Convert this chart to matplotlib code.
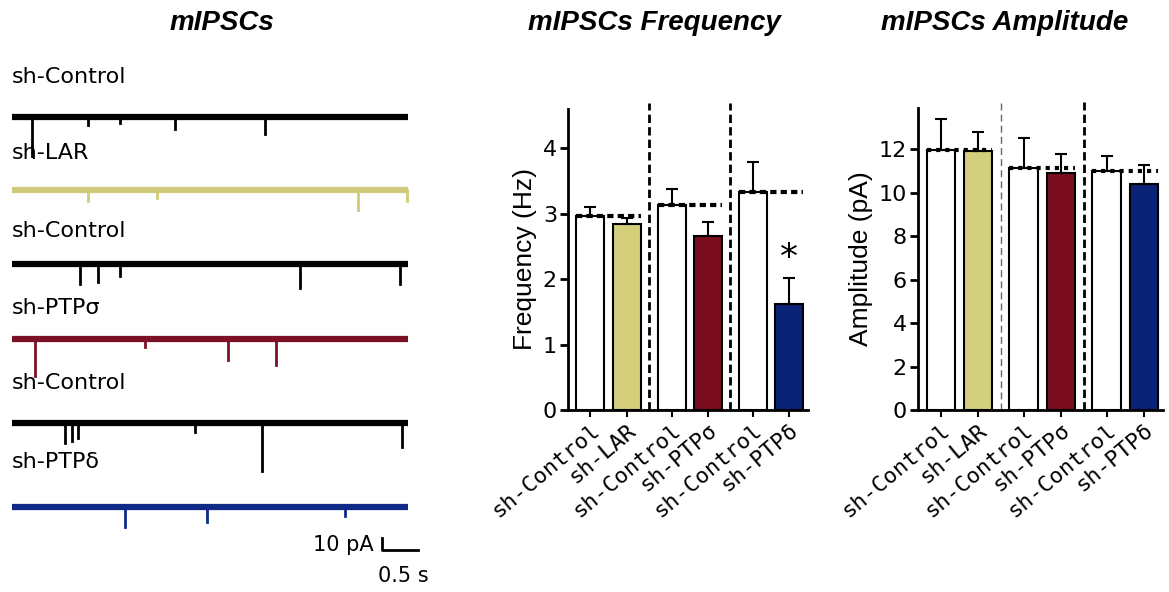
import numpy as np
import matplotlib
matplotlib.use("Agg")
import matplotlib.pyplot as plt

# ---- data ----
groups = ["sh-Control", "sh-LAR", "sh-Control", "sh-PTPσ", "sh-Control", "sh-PTPδ"]
freq_mean = [2.97, 2.84, 3.14, 2.66, 3.33, 1.62]
freq_sem = [0.13, 0.10, 0.23, 0.21, 0.46, 0.40]
amp_mean = [11.95, 11.9, 11.15, 10.9, 11.0, 10.38]
amp_sem = [1.45, 0.90, 1.35, 0.90, 0.70, 0.90]

trace_names = ["sh-Control", "sh-LAR", "sh-Control", "sh-PTPσ", "sh-Control", "sh-PTPδ"]
# (time s, amplitude pA) of the visible events in each trace
trace_events = [
    [(0.28, 33), (1.06, 7), (1.50, 5), (2.26, 10), (3.51, 14)],
    [(1.06, 9), (2.01, 7), (4.81, 17), (5.48, 9)],
    [(0.94, 16), (1.19, 15), (1.50, 10), (4.00, 20), (5.39, 16)],
    [(0.32, 31), (1.85, 7), (3.00, 18), (3.67, 22)],
    [(0.74, 17), (0.83, 15), (0.92, 13), (2.54, 8), (3.47, 40), (5.42, 20)],
    [(1.57, 17), (2.71, 13), (4.63, 8)],
]
trace_duration = 5.5  # s

# ---- styles / layout ----
bar_colors = ["white", "#D3CF7A", "white", "#7A0D20", "white", "#0B2377"]
trace_colors = ["black", "#CFCB7A", "black", "#7C1025", "black", "#0E2A86"]
positions = [0, 1.3, 2.9, 4.2, 5.8, 7.1]
trace_offsets = [396, 335, 273, 211, 141, 71]   # pA, baseline of each trace
label_offsets = [429, 366, 301, 237, 174, 108]

W, H = 1169, 592


def px_rect(x0, y_top, x1, y_bot):
    return [x0 / W, 1 - y_bot / H, (x1 - x0) / W, (y_bot - y_top) / H]


fig = plt.figure(figsize=(W / 100, H / 100), dpi=100)

title_kw = dict(family="Liberation Sans", weight="bold", style="italic",
                fontsize=20, ha="center", va="center")
fig.text(222 / W, 1 - 23 / H, "mIPSCs", **title_kw)
fig.text(654 / W, 1 - 23 / H, "mIPSCs Frequency", **title_kw)
fig.text(1005 / W, 1 - 23 / H, "mIPSCs Amplitude", **title_kw)

# ---- left: example traces ----
ax_tr = fig.add_axes(px_rect(12, 40, 440, 592))
ax_tr.set_xlim(0, 428 / 72)
ax_tr.set_ylim(0, 552 / 1.2)
ax_tr.axis("off")
for name, events, col, base, lab in zip(trace_names, trace_events, trace_colors,
                                        trace_offsets, label_offsets):
    ax_tr.plot([0, trace_duration], [base, base], color=col, lw=4.5,
               solid_capstyle="butt")
    for t, a in events:
        ax_tr.plot([t, t], [base, base - a], color=col, lw=2)
    ax_tr.text(0, lab, name, family="DejaVu Sans", fontsize=16,
               ha="left", va="center")

# scale bar: 10 pA, 0.5 s
sx, sy = 5.14, 35
ax_tr.plot([sx, sx, sx + 0.5], [sy + 10, sy, sy], color="black", lw=2)
ax_tr.text(sx - 0.12, sy + 4, "10 pA", family="DejaVu Sans", fontsize=15,
           ha="right", va="center")
ax_tr.text(sx + 0.3, sy - 22, "0.5 s", family="DejaVu Sans", fontsize=15,
           ha="center", va="center")


def bar_panel(ax, means, sems, ylim, yticks, ylabel, sep_styles, ref_style):
    ax.bar(positions, means, width=1.0, color=bar_colors, edgecolor="black",
           linewidth=1.5, zorder=2)
    ax.errorbar(positions, means, yerr=[[0] * len(sems), sems], fmt="none",
                ecolor="black", elinewidth=1.5, capsize=4, capthick=1.5, zorder=3)
    for i in (0, 2, 4):
        ax.plot([positions[i] - 0.5, positions[i + 1] + 0.5], [means[i], means[i]],
                zorder=4, **ref_style)
    for k, st in zip((0, 2), sep_styles):
        xs = (positions[k + 1] + positions[k + 2]) / 2
        ax.plot([xs, xs], [0, ylim[1] * 1.02], clip_on=False, zorder=1, **st)
    ax.set_xlim(-0.8, 7.77)
    ax.set_ylim(*ylim)
    ax.set_yticks(yticks)
    ax.set_xticks(positions)
    ax.set_xticklabels(groups, rotation=40, ha="right", va="top",
                       rotation_mode="anchor", family="DejaVu Sans Mono",
                       fontsize=16)
    for s in ("top", "right"):
        ax.spines[s].set_visible(False)
    for s in ("left", "bottom"):
        ax.spines[s].set_linewidth(2)
    ax.tick_params(axis="y", labelsize=16, length=6, width=2, pad=2)
    ax.tick_params(axis="x", length=5, width=1.5, pad=2)
    for t in ax.get_yticklabels():
        t.set_family("DejaVu Sans")
    ax.set_ylabel(ylabel, family="Liberation Sans", fontsize=19, labelpad=4)


thick_sep = dict(color="black", lw=2, ls=(0, (3, 1.5)))
thin_sep = dict(color="#666666", lw=1, ls=(0, (5, 3)))

ax_f = fig.add_axes(px_rect(568, 109, 808, 410))
bar_panel(ax_f, freq_mean, freq_sem, (0, 4.6), [0, 1, 2, 3, 4], "Frequency (Hz)",
          [thick_sep, thick_sep],
          dict(color="black", lw=3, ls=(0, (1.5, 1))))
ax_f.annotate("*", (positions[5], freq_mean[5] + freq_sem[5]),
              xytext=(0, 2), textcoords="offset points", ha="center",
              va="bottom", fontsize=26, family="DejaVu Sans")

ax_a = fig.add_axes(px_rect(918, 108, 1163, 410))
bar_panel(ax_a, amp_mean, amp_sem, (0, 13.9), [0, 2, 4, 6, 8, 10, 12],
          "Amplitude (pA)", [thin_sep, thick_sep],
          dict(color="black", lw=3, ls=(0, (1, 1.2))))

fig.savefig("out.png", dpi=100)
